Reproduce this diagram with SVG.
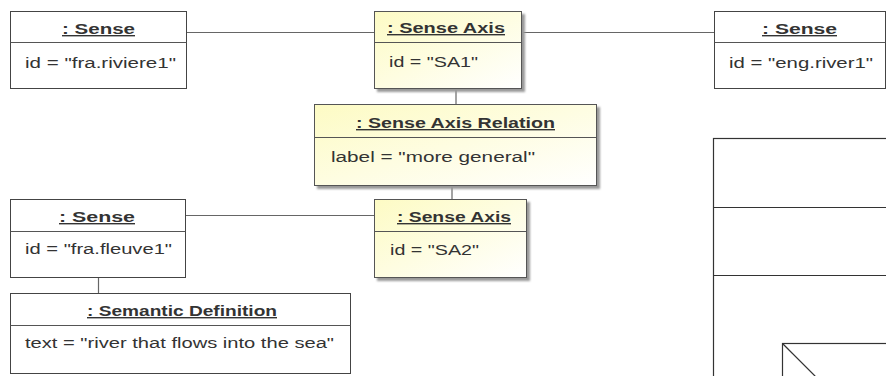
<svg xmlns="http://www.w3.org/2000/svg" width="886" height="376" viewBox="0 0 886 376">
<defs>
<linearGradient id="yel" x1="0" y1="0" x2="1" y2="1">
<stop offset="0" stop-color="#fdfbc4"/>
<stop offset="1" stop-color="#ffffff"/>
</linearGradient>
<filter id="sh" x="-10%" y="-10%" width="130%" height="140%">
<feGaussianBlur stdDeviation="1.2"/>
</filter>
</defs>
<style>
.box{fill:#fff;stroke:#444;stroke-width:1}
.ybox{fill:url(#yel);stroke:#555;stroke-width:1}
.div{stroke:#555;stroke-width:1}
.shadow{fill:#999;filter:url(#sh)}
.t{font-family:"Liberation Sans",Arial,sans-serif;font-size:14px;font-weight:bold;fill:#333;text-decoration:underline}
.a{font-family:"Liberation Sans",Arial,sans-serif;font-size:14px;fill:#333}
.con{stroke:#666;stroke-width:1.2;fill:none}
.frame{fill:none;stroke:#333;stroke-width:1.2}
</style>
<rect width="886" height="376" fill="#fff"/>
<g id="connectors">
<line class="con" x1="187" y1="32.5" x2="374" y2="32.5"/>
<line class="con" x1="522" y1="32.5" x2="714" y2="32.5"/>
<line class="con" x1="456" y1="89" x2="456" y2="104"/>
<line class="con" x1="452" y1="186" x2="452" y2="199"/>
<line class="con" x1="186" y1="215.5" x2="374" y2="215.5"/>
<line class="con" x1="98.5" y1="278" x2="98.5" y2="293"/>
</g>
<g id="sense-fra-riviere1">
<rect class="box" x="10.5" y="11.5" width="176" height="77"/>
<line class="div" x1="10.5" y1="42.5" x2="186.5" y2="42.5"/>
<text class="t" x="62" y="34" textLength="73" lengthAdjust="spacingAndGlyphs">: Sense</text>
<text class="a" x="25" y="68" textLength="151" lengthAdjust="spacingAndGlyphs">id = "fra.riviere1"</text>
</g>
<g id="sense-axis-sa1">
<rect class="shadow" x="377" y="14" width="148" height="78"/>
<rect class="ybox" x="374.5" y="11.5" width="147" height="77"/>
<line class="div" x1="374.5" y1="42.5" x2="521.5" y2="42.5"/>
<text class="t" x="387" y="33" textLength="118" lengthAdjust="spacingAndGlyphs">: Sense Axis</text>
<text class="a" x="389" y="67" textLength="89" lengthAdjust="spacingAndGlyphs">id = "SA1"</text>
</g>
<g id="sense-eng-river1">
<rect class="box" x="714.5" y="11.5" width="171" height="77"/>
<line class="div" x1="714.5" y1="42.5" x2="885.5" y2="42.5"/>
<text class="t" x="762" y="34" textLength="75" lengthAdjust="spacingAndGlyphs">: Sense</text>
<text class="a" x="729" y="68" textLength="144" lengthAdjust="spacingAndGlyphs">id = "eng.river1"</text>
</g>
<g id="sense-axis-relation">
<rect class="shadow" x="317" y="107" width="283" height="82"/>
<rect class="ybox" x="314.5" y="104.5" width="282" height="81"/>
<line class="div" x1="314.5" y1="137.5" x2="596.5" y2="137.5"/>
<text class="t" x="356" y="128" textLength="199" lengthAdjust="spacingAndGlyphs">: Sense Axis Relation</text>
<text class="a" x="331" y="162" textLength="204" lengthAdjust="spacingAndGlyphs">label = "more general"</text>
</g>
<g id="sense-fra-fleuve1">
<rect class="box" x="10.5" y="199.5" width="175" height="78"/>
<line class="div" x1="10.5" y1="231.5" x2="185.5" y2="231.5"/>
<text class="t" x="59" y="222" textLength="76" lengthAdjust="spacingAndGlyphs">: Sense</text>
<text class="a" x="25" y="254" textLength="147" lengthAdjust="spacingAndGlyphs">id = "fra.fleuve1"</text>
</g>
<g id="sense-axis-sa2">
<rect class="shadow" x="377" y="202" width="153" height="79"/>
<rect class="ybox" x="374.5" y="199.5" width="152" height="78"/>
<line class="div" x1="374.5" y1="231.5" x2="526.5" y2="231.5"/>
<text class="t" x="397" y="222" textLength="114" lengthAdjust="spacingAndGlyphs">: Sense Axis</text>
<text class="a" x="390" y="255" textLength="89" lengthAdjust="spacingAndGlyphs">id = "SA2"</text>
</g>
<g id="semantic-definition">
<rect class="box" x="10.5" y="293.5" width="340" height="80"/>
<line class="div" x1="10.5" y1="325.5" x2="350.5" y2="325.5"/>
<text class="t" x="87" y="316" textLength="190" lengthAdjust="spacingAndGlyphs">: Semantic Definition</text>
<text class="a" x="25" y="348" textLength="309" lengthAdjust="spacingAndGlyphs">text = "river that flows into the sea"</text>
</g>
<g id="right-frame">
<rect class="frame" x="713.5" y="138.5" width="200" height="260"/>
<line class="frame" x1="713.5" y1="207.5" x2="890" y2="207.5"/>
<line class="frame" x1="713.5" y1="275.5" x2="890" y2="275.5"/>
<rect class="frame" x="782.5" y="343.5" width="150" height="60"/>
<line class="frame" x1="782.5" y1="343.5" x2="820" y2="381"/>
</g>
</svg>
